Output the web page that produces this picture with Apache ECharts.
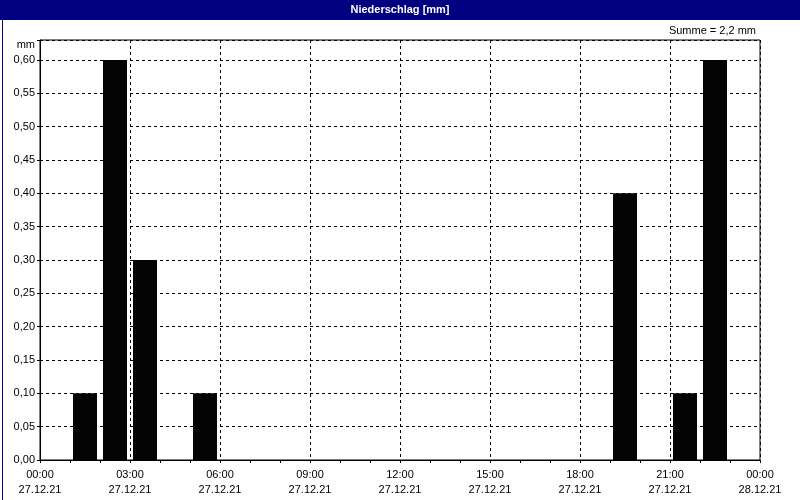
<!DOCTYPE html>
<html>
<head>
<meta charset="utf-8">
<script src="https://cdn.jsdelivr.net/npm/echarts@6/dist/echarts.min.js"></script>
<style>html,body{margin:0;padding:0;background:#fff}#c{width:800px;height:500px}</style>
</head>
<body>
<div id="c"></div>
<script>
// Data
var titleText = 'Niederschlag [mm]';
var unitLabel = 'mm';
var barHours = [1, 2, 3, 5, 19, 21, 22];        // start hour of each hourly bar
var barValues = [0.1, 0.6, 0.3, 0.1, 0.4, 0.1, 0.6]; // mm
var timeLabels = ['00:00','03:00','06:00','09:00','12:00','15:00','18:00','21:00','00:00'];
var dateLabels = ['27.12.21','27.12.21','27.12.21','27.12.21','27.12.21','27.12.21','27.12.21','27.12.21','28.12.21'];

var sum = barValues.reduce(function(a,b){return a+b;},0);
var sumText = 'Summe = ' + (Math.round(sum*10)/10).toString().replace('.', ',') + ' mm';
var FONT = 'Liberation Sans';

var chart = echarts.init(document.getElementById('c'), null, {renderer:'canvas'});
chart.setOption({
  backgroundColor: '#ffffff',
  animation: false,
  textStyle: {fontFamily: FONT},
  grid: {left: 40, right: 40, top: 40, bottom: 40, show: true, borderColor: '#000', borderWidth: 1, backgroundColor: 'transparent'},
  xAxis: {
    type: 'value', min: 0, max: 24, interval: 3,
    axisLine: {lineStyle: {color: '#000', width: 1}},
    axisTick: {show: true, length: 3, lineStyle: {color: '#000'}},
    minorTick: {show: true, splitNumber: 3, length: 3, lineStyle: {color: '#000'}},
    splitLine: {show: true, lineStyle: {color: '#000', type: [3,3], width: 1}},
    axisLabel: {
      color: '#000', fontSize: 11, fontFamily: FONT, margin: 7, lineHeight: 15,
      formatter: function(v){ var i = Math.round(v/3); return timeLabels[i] + '\n' + dateLabels[i]; }
    }
  },
  yAxis: {
    type: 'value', min: 0, max: 0.63, interval: 0.05,
    axisLine: {show: true, lineStyle: {color: '#000', width: 1}},
    axisTick: {show: true, length: 3, lineStyle: {color: '#000'}},
    splitLine: {show: true, lineStyle: {color: '#000', type: [3,3], width: 1}},
    axisLabel: {
      color: '#000', fontSize: 11, fontFamily: FONT, margin: 5, showMaxLabel: true,
      formatter: function(v){ if (v > 0.62) return '{u|' + unitLabel + '}'; return v.toFixed(2).replace('.', ','); },
      rich: {u: {fontSize: 11, fontFamily: FONT, color: '#000', padding: [10,0,0,0]}}
    }
  },
  series: [{
    type: 'bar',
    barWidth: 24,
    itemStyle: {color: '#040404'},
    data: barHours.map(function(h, i){ return [h + 0.5, barValues[i]]; })
  }],
  graphic: [
    {type: 'rect', left: 0, top: 0, shape: {width: 800, height: 20}, style: {fill: '#000080'}, z: 10},
    {type: 'text', left: 'center', top: 4, style: {text: titleText, fill: '#fff', font: 'bold 11px ' + FONT}, z: 11},
    {type: 'text', right: 44, top: 25, style: {text: sumText, fill: '#000', font: '11px ' + FONT}, z: 11},
    {type: 'rect', left: 0, top: 0, shape: {x: 0.5, y: 0.5, width: 799, height: 499}, style: {fill: 'none', stroke: '#000080', lineWidth: 1}, z: 12}
  ]
});
</script>
</body>
</html>
